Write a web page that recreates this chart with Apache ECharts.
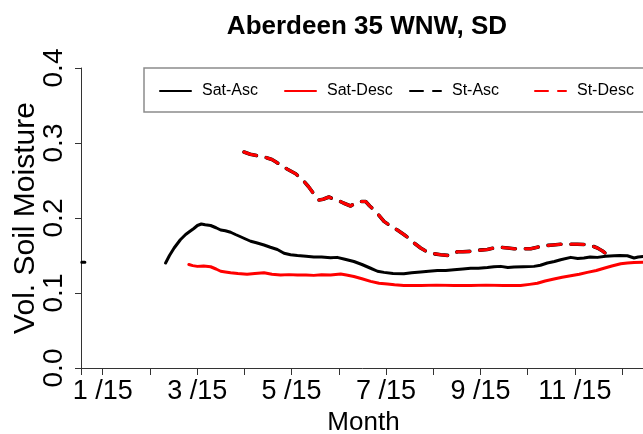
<!DOCTYPE html>
<html>
<head>
<meta charset="utf-8">
<script src="https://cdn.jsdelivr.net/npm/echarts@6/dist/echarts.min.js"></script>
<style>
html, body { margin: 0; padding: 0; background: #fff; }
#chart { width: 643px; height: 434px; }
</style>
</head>
<body>
<div id="chart"></div>
<script>
// day of year -> volumetric soil moisture
var satAsc = [
	[1.5, 0.141], [3.5, 0.141], [20, null],
	[55.5, 0.140], [58, 0.150], [61, 0.160], [65, 0.171], [68.4, 0.178], [71, 0.182], [73.7, 0.186], [76, 0.190],
	[78.5, 0.192], [81, 0.191], [84.5, 0.190], [88, 0.187], [91, 0.184], [94, 0.183], [97.4, 0.181], [100.5, 0.178],
	[103.8, 0.175], [107, 0.172], [110.3, 0.169], [114, 0.167], [118.9, 0.164], [123, 0.161], [127.5, 0.158],
	[131.8, 0.153], [136, 0.151], [140.4, 0.150], [146, 0.149], [151, 0.148], [156, 0.148], [161.8, 0.147],
	[166, 0.1475], [171, 0.145], [176.8, 0.142], [182, 0.138], [187.6, 0.133], [192, 0.129], [196.2, 0.1275],
	[202, 0.126], [209, 0.1257], [214, 0.127], [219.8, 0.128], [225, 0.129], [230.6, 0.130], [236, 0.130],
	[241.3, 0.131], [247, 0.132], [252, 0.133], [257, 0.133], [262.8, 0.134], [267, 0.135], [271.4, 0.1355],
	[276, 0.134], [280, 0.1347], [286, 0.135], [292.8, 0.1355], [297, 0.137], [301.4, 0.140], [306, 0.142],
	[310, 0.1444], [316.5, 0.1475], [321, 0.146], [325, 0.1467], [329, 0.148], [333.7, 0.1475], [339, 0.149],
	[344.4, 0.1497], [348, 0.150], [353, 0.1497], [357.3, 0.1467], [360, 0.148], [365, 0.149]
];
var satDesc = [
	[70.5, 0.138], [73, 0.1365], [75.9, 0.1355], [80, 0.136], [84.5, 0.135], [88, 0.132], [91, 0.129], [94, 0.128],
	[97.4, 0.127], [102, 0.126], [108, 0.125], [113, 0.126], [118.9, 0.127], [124, 0.125], [129.6, 0.124],
	[135, 0.1245], [140.4, 0.124], [146, 0.124], [151, 0.1235], [156, 0.1244], [161.8, 0.124], [168.3, 0.1253],
	[172, 0.124], [176.8, 0.122], [182, 0.119], [187.6, 0.1155], [193, 0.113], [198.4, 0.112], [203, 0.111],
	[209, 0.110], [220, 0.110], [230, 0.1105], [241.3, 0.110], [252, 0.110], [262, 0.1105], [273, 0.110],
	[284.2, 0.110], [290, 0.1115], [295, 0.113], [300, 0.116], [305.7, 0.1187], [311, 0.121], [316.5, 0.123],
	[322, 0.125], [327.2, 0.1275], [333, 0.130], [337.9, 0.133], [343, 0.136], [348.7, 0.139], [353, 0.140],
	[357.3, 0.1408], [365, 0.141]
];
var stAsc = [
	[106, 0.288], [110, 0.285], [114.6, 0.283], [118, 0.282], [121, 0.280], [124, 0.278], [126.4, 0.275],
	[130, 0.270], [134, 0.265], [139.3, 0.259], [144.6, 0.249], [147.5, 0.242], [150, 0.235], [152, 0.229],
	[154.3, 0.224], [157, 0.225], [160.7, 0.228], [163, 0.226], [166, 0.224], [170, 0.220], [174.7, 0.216],
	[177, 0.219], [180, 0.222], [184.4, 0.222], [187, 0.216], [190.8, 0.209], [196.2, 0.1955], [200, 0.190],
	[204.8, 0.184], [209, 0.178], [213.4, 0.171], [216, 0.166], [219.8, 0.160], [223, 0.156], [226.3, 0.153],
	[232.7, 0.151], [238, 0.150], [240, 0.152], [243.5, 0.155], [247, 0.155], [252, 0.1555], [257, 0.157],
	[262.8, 0.158], [267, 0.160], [271.4, 0.161], [276, 0.160], [280, 0.159], [286, 0.159], [290.7, 0.159],
	[295, 0.161], [299.3, 0.163], [305, 0.164], [310, 0.165], [315, 0.165], [320.8, 0.165], [327.2, 0.1645],
	[330, 0.163], [333.7, 0.160], [337, 0.156], [340.1, 0.151], [342.5, 0.1495]
];
var stDesc = [
	[106, 0.288], [110, 0.285], [114.6, 0.283], [118, 0.282], [121, 0.280], [124, 0.278], [126.4, 0.275],
	[130, 0.270], [134, 0.265], [139.3, 0.259], [144.6, 0.249], [147.5, 0.242], [150, 0.235], [152, 0.229],
	[154.3, 0.224], [157, 0.225], [160.7, 0.228], [163, 0.226], [166, 0.224], [170, 0.220], [174.7, 0.216],
	[177, 0.219], [180, 0.222], [184.4, 0.222], [187, 0.216], [190.8, 0.209], [196.2, 0.1955], [200, 0.190],
	[204.8, 0.184], [209, 0.178], [213.4, 0.171], [216, 0.166], [219.8, 0.160], [223, 0.156], [226.3, 0.153],
	[232.7, 0.151], [238, 0.150], [240, 0.152], [243.5, 0.155], [247, 0.155], [252, 0.1555], [257, 0.157],
	[262.8, 0.158], [267, 0.160], [271.4, 0.161], [276, 0.160], [280, 0.159], [286, 0.159], [290.7, 0.159],
	[295, 0.161], [299.3, 0.163], [305, 0.164], [310, 0.165], [315, 0.165], [320.8, 0.165], [327.2, 0.1645],
	[330, 0.163], [333.7, 0.160], [337, 0.156], [340.1, 0.151], [342.5, 0.1495]
];

// ticks: year start and the 15th of each month (equal spacing)
var tickDays = [1, 15, 45.42, 75.83, 106.25, 136.67, 167.08, 197.5, 227.92, 258.33, 288.75, 319.17, 349.58];
var labelDays = [15, 75.83, 136.67, 197.5, 258.33, 319.17];
var labelTexts = ['1 /15', '3 /15', '5 /15', '7 /15', '9 /15', '11 /15'];
var seriesNames = ['Sat-Asc', 'Sat-Desc', 'St-Asc', 'St-Desc'];

var font = '"Liberation Sans", Arial, sans-serif';

var chart = echarts.init(document.getElementById('chart'));

function lineSeries(name, data, color, dashed, width) {
	return {
		name: name,
		type: 'line',
		data: data,
		symbol: 'none',
		connectNulls: false,
		lineStyle: {
			color: color,
			width: width,
			type: dashed ? [13, 10] : 'solid',
			cap: 'round',
			join: 'round'
		},
		itemStyle: { color: color }
	};
}

chart.setOption({
	animation: false,
	backgroundColor: '#fff',
	title: {
		text: 'Aberdeen 35 WNW, SD',
		left: 367,
		top: 14,
		padding: 0,
		textAlign: 'center',
		textStyle: { fontFamily: font, fontSize: 26, fontWeight: 'bold', color: '#000' }
	},
	legend: {
		data: seriesNames,
		left: 144,
		top: 68,
		width: 520,
		padding: [15, 20, 13, 15],
		itemWidth: 31,
		itemHeight: 14,
		itemGap: 0,
		borderColor: '#8c8c8c',
		borderWidth: 1.5,
		borderRadius: 0,
		itemStyle: { opacity: 0 },
		textStyle: {
			fontFamily: font,
			fontSize: 16,
			color: '#000',
			width: 82,
			backgroundColor: 'rgba(255,255,255,0)',
			padding: [0, 0, 0, 6]
		}
	},
	grid: { left: 81, right: -3, top: 68, bottom: 66, outerBoundsMode: 'none', containLabel: false },
	xAxis: {
		type: 'value',
		min: 1,
		max: 365,
		name: 'Month',
		nameLocation: 'middle',
		nameGap: 41,
		nameTextStyle: { fontFamily: font, fontSize: 26, color: '#000' },
		splitLine: { show: false },
		axisLine: { lineStyle: { color: '#333', width: 1 } },
		axisTick: { length: 7, lineStyle: { color: '#333' }, customValues: tickDays },
		axisLabel: {
			customValues: labelDays,
			margin: 10,
			fontFamily: font,
			fontSize: 27,
			color: '#000',
			formatter: function (v) {
				for (var i = 0; i < labelDays.length; i++) {
					if (Math.abs(labelDays[i] - v) < 0.01) return labelTexts[i];
				}
				return '';
			}
		}
	},
	yAxis: {
		type: 'value',
		min: 0,
		max: 0.4,
		interval: 0.1,
		name: 'Vol. Soil Moisture',
		nameLocation: 'middle',
		nameGap: 40,
		nameMoveOverlap: false,
		nameTextStyle: { fontFamily: font, fontSize: 30, color: '#000' },
		splitLine: { show: false },
		axisLine: { show: true, lineStyle: { color: '#333', width: 1 } },
		axisTick: { show: true, length: 6, lineStyle: { color: '#333' } },
		axisLabel: {
			rotate: 90,
			margin: 13,
			fontFamily: font,
			fontSize: 28,
			color: '#000',
			formatter: function (v) { return v.toFixed(1); }
		}
	},
	series: [
		lineSeries('Sat-Asc', satAsc, '#000', false, 3),
		lineSeries('Sat-Desc', satDesc, '#ff0000', false, 3),
		lineSeries('St-Asc', stAsc, '#000', true, 3.6),
		lineSeries('St-Desc', stDesc, '#ff0000', true, 3)
	]
});
</script>
</body>
</html>
